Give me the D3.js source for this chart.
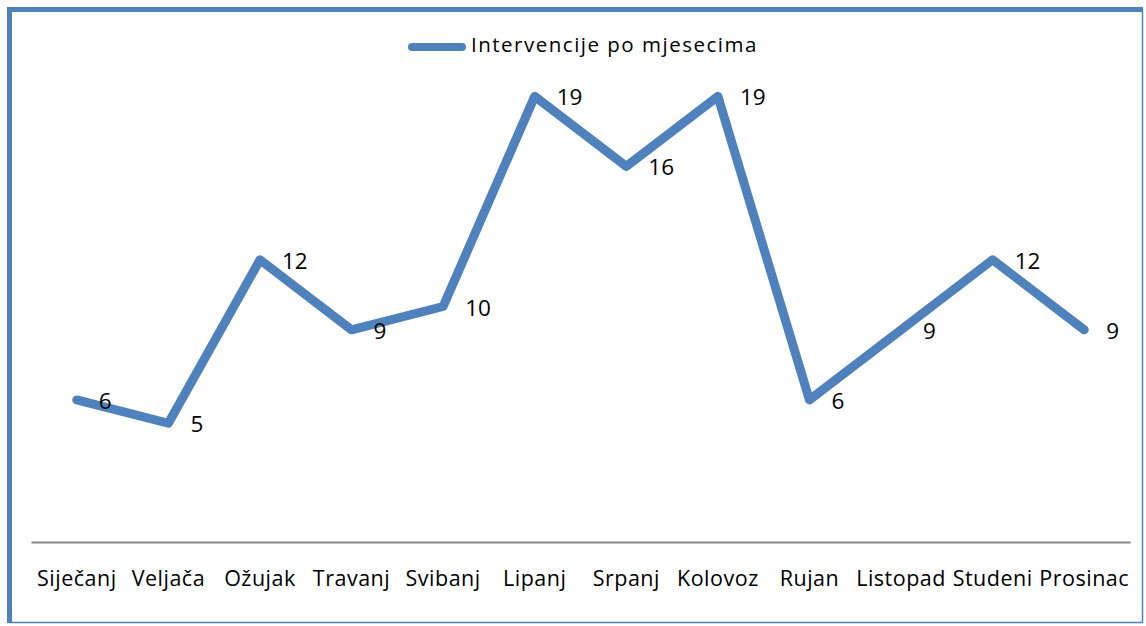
<!DOCTYPE html>
<html><head><meta charset="utf-8">
<script src="https://cdn.jsdelivr.net/npm/d3@7/dist/d3.min.js"></script>
<style>body{margin:0;background:#fff}svg{display:block}</style>
</head><body><svg id="c" width="1146" height="626"></svg>
<script>
const months = ["Siječanj","Veljača","Ožujak","Travanj","Svibanj","Lipanj","Srpanj","Kolovoz","Rujan","Listopad","Studeni","Prosinac"];
const values = [6,5,12,9,10,19,16,19,6,9,12,9];
const seriesName = "Intervencije po mjesecima";

const svg = d3.select("#c");
const blue = "#4F81BD";
const font = "'Open Sans', sans-serif";

// frame
svg.append("rect").attr("x",9.5).attr("y",9.5).attr("width",1133).attr("height",613)
  .attr("fill","none").attr("stroke",blue).attr("stroke-width",1.5);
svg.append("line").attr("x1",9.5).attr("x2",9.5).attr("y1",7).attr("y2",623).attr("stroke",blue).attr("stroke-width",5);
svg.append("line").attr("x1",7).attr("x2",1143).attr("y1",9.5).attr("y2",9.5).attr("stroke",blue).attr("stroke-width",5);

const x = d3.scaleBand().domain(months).range([31,1130]);
const y = d3.scaleLinear().domain([0,20]).range([540,73]);

// axis
const ax = svg.append("g").attr("transform","translate(0,542)")
  .call(d3.axisBottom(x).tickSize(0).tickPadding(29));
ax.select(".domain").attr("stroke","#868686").attr("stroke-width",2);
ax.selectAll("text").attr("font-family",font).attr("font-size",21.5).attr("letter-spacing",0.5).attr("fill","#000");

const cx = d => x(d) + x.bandwidth()/2;
const line = d3.line().x((d,i)=>cx(months[i])).y(d=>y(d));
svg.append("path").datum(values).attr("d",line).attr("fill","none")
  .attr("stroke",blue).attr("stroke-width",9).attr("stroke-linejoin","round").attr("stroke-linecap","round");

svg.selectAll(".lbl").data(values).enter().append("text")
  .attr("x",(d,i)=>cx(months[i])+22).attr("y",d=>y(d)+3)
  .attr("dominant-baseline","middle").attr("font-family",font).attr("font-size",22.5).attr("fill","#000")
  .text(d=>d);

// legend
svg.append("line").attr("x1",412).attr("x2",462).attr("y1",47).attr("y2",47)
  .attr("stroke",blue).attr("stroke-width",8).attr("stroke-linecap","round");
svg.append("text").attr("x",471).attr("y",47).attr("dominant-baseline","middle")
  .attr("font-family",font).attr("font-size",20.5).attr("letter-spacing",1.5).attr("fill","#000").text(seriesName);
</script></body></html>
